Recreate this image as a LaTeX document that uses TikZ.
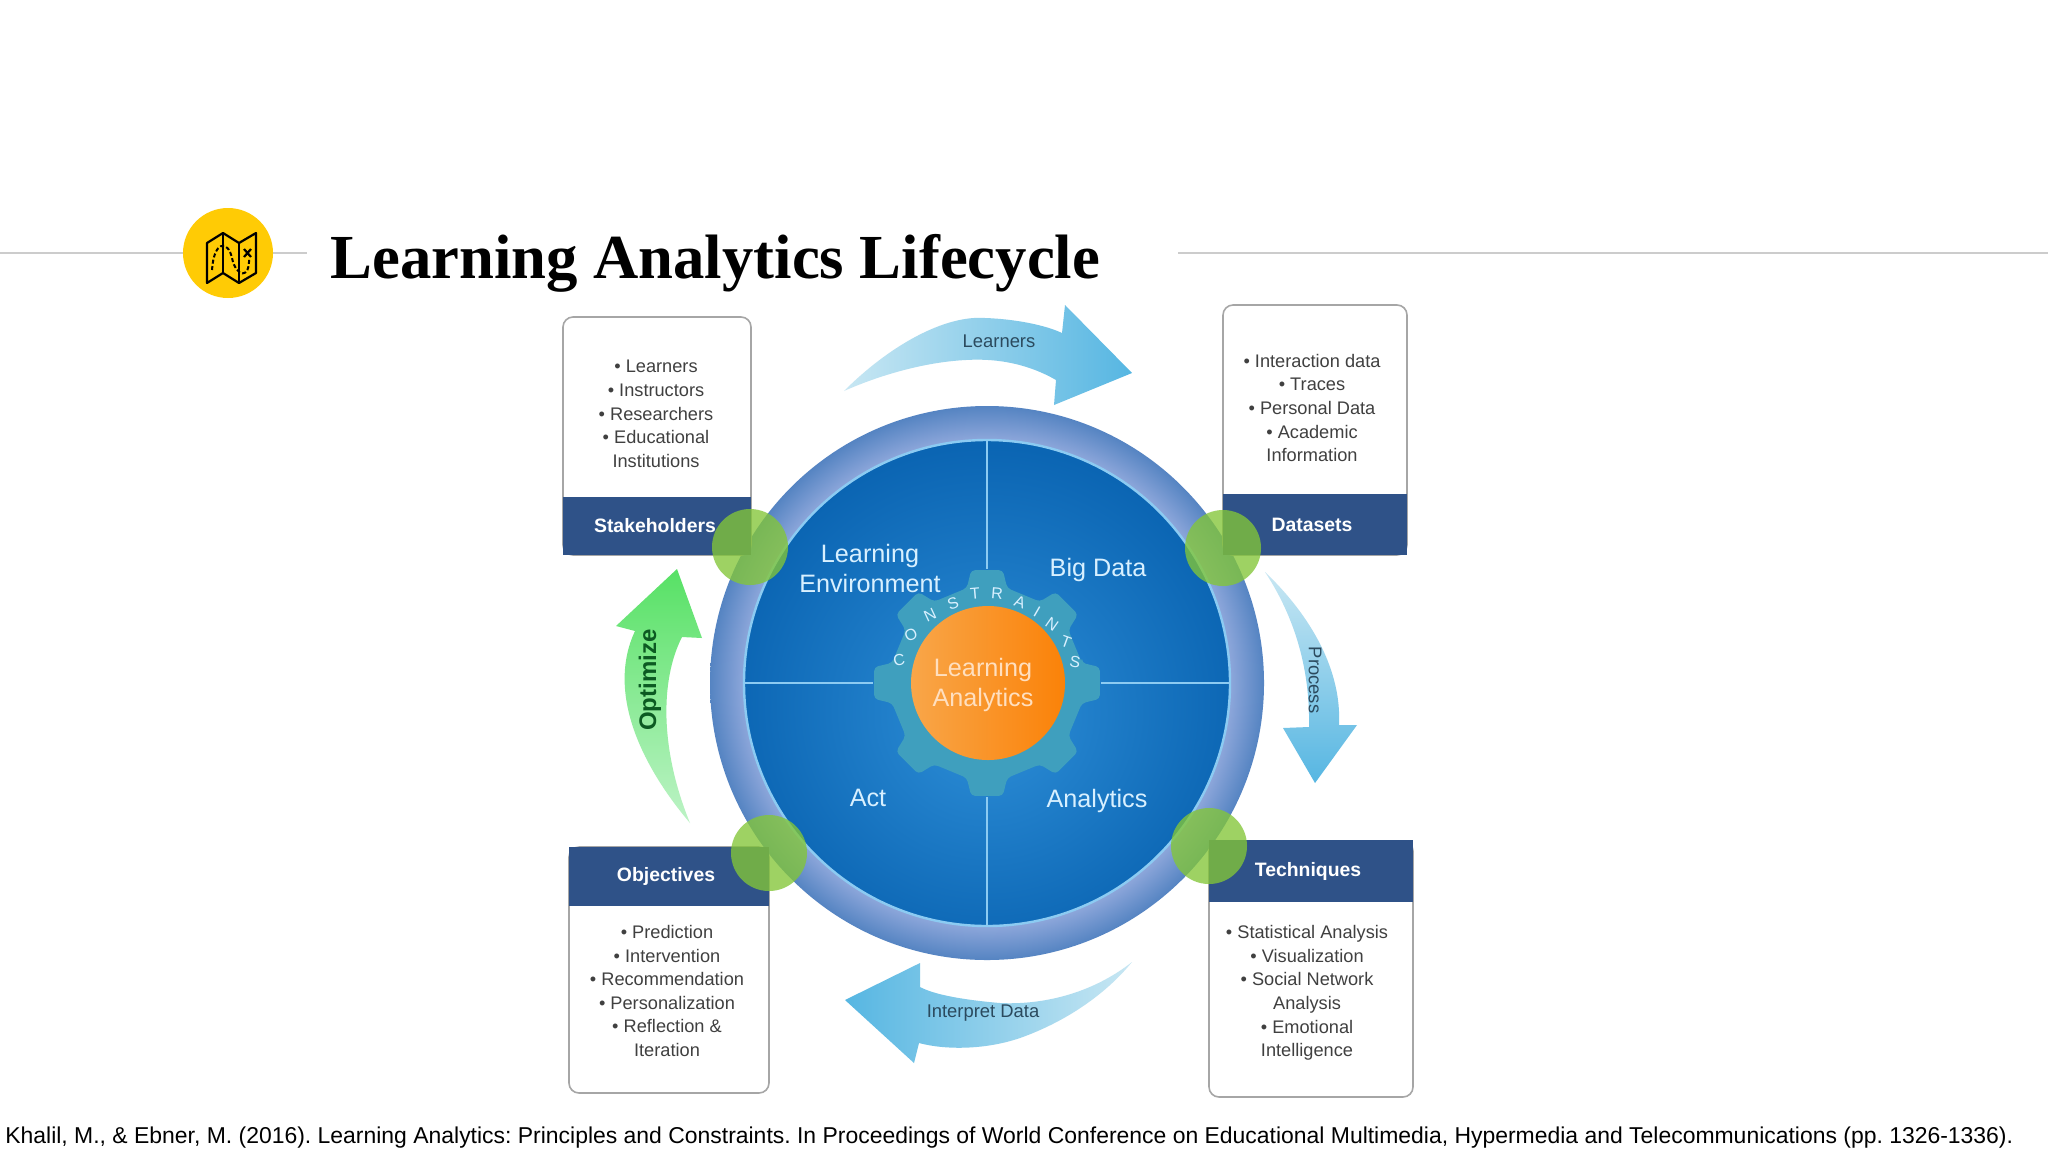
\documentclass[tikz,border=0pt]{standalone}
\usepackage{fontspec}
\setmainfont{Liberation Sans}
\newfontfamily\titlefont{Liberation Serif}
\definecolor{navy}{HTML}{2F5288}
\definecolor{ruleGray}{HTML}{CCCCCC}
\definecolor{badgeYellow}{HTML}{FFCB05}
\definecolor{cogTeal}{HTML}{3F9FBE}
\definecolor{quadText}{HTML}{D8F0FF}
\definecolor{joint}{RGB}{131,198,56}
\definecolor{ringIn}{HTML}{8CA6DA}
\definecolor{ringOut}{HTML}{5584C2}
\definecolor{discMid}{HTML}{2E8FD8}
\definecolor{discRim}{HTML}{0A64B2}
\definecolor{lineBlue}{HTML}{8CCBF2}
\definecolor{flowPale}{HTML}{C8E7F3}
\definecolor{flowDeep}{HTML}{56B6E2}
\definecolor{flowText}{HTML}{2B4A5E}
\definecolor{optPale}{HTML}{BDF3C6}
\definecolor{optDeep}{HTML}{57E165}
\definecolor{optText}{HTML}{0C5A22}
\definecolor{hubLight}{HTML}{F9A649}
\definecolor{hubDeep}{HTML}{FA8208}
\pgfdeclareradialshading{ringfade}{\pgfpoint{0bp}{0bp}}{color(0bp)=(ringIn); color(22bp)=(ringIn); color(25bp)=(ringOut); color(50bp)=(ringOut)}
\pgfdeclareradialshading{discfade}{\pgfpoint{0bp}{-4bp}}{color(0bp)=(discMid); color(27bp)=(discRim); color(50bp)=(discRim)}
\tikzset{
listbox/.style=
    {draw=gray!70,
    fill=white,
    line width=0.8pt,
    rectangle,rounded corners=5pt,
    inner sep=0pt
    },
headbar/.style=
    {fill=navy,
    rectangle,
    inner sep=0pt,
    text=white,
    font=\fontsize{9.7}{12}\selectfont\bfseries
    },
listtext/.style=
    {align=center,
    inner sep=0pt,
    text=black!75,
    font=\fontsize{9.1}{11.8}\selectfont
    },
quadlabel/.style=
    {align=center,
    inner sep=0pt,
    text=quadText,
    font=\fontsize{12.6}{15}\selectfont
    },
flowlabel/.style=
    {inner sep=0pt,
    text=flowText,
    font=\fontsize{9.2}{11}\selectfont
    },
jointdot/.style=
    {circle,
    fill=joint,
    fill opacity=0.78,
    minimum size=38pt,
    inner sep=0pt
    },
cogletter/.style=
    {inner sep=0pt,
    text=quadText,
    font=\fontsize{8}{10}\selectfont
    }}

\begin{document}
\begin{tikzpicture}[x=0.5pt,y=-0.5pt]
\fill[white] (0,0) rectangle (2048,1152);
\useasboundingbox (0,0) rectangle (2048,1152);

% heading
\coordinate (ruleA) at (0,253);
\coordinate (ruleB) at (307,253);
\coordinate (ruleC) at (1178,253);
\coordinate (ruleD) at (2048,253);
\draw[ruleGray,line width=1pt] (ruleA) -- (ruleB);
\draw[ruleGray,line width=1pt] (ruleC) -- (ruleD);
\node[circle,fill=badgeYellow,minimum size=45pt,inner sep=0pt] (badge) at (228,253) {};
\draw[black,line width=1.1pt,line join=round] (207,243) -- (223,233) -- (239,243) -- (256,233) -- (256,273) -- (239,283) -- (223,273) -- (207,283) -- cycle;
\draw[black,line width=1.1pt] (223,233) -- (223,273) (239,243) -- (239,283);
\draw[black,line width=1pt,dash pattern=on 2pt off 1.2pt] (212,270) .. controls (214,240) and (228,240) .. (232,258) .. controls (236,277) and (250,280) .. (249,258);
\draw[black,line width=1.1pt] (244,249) -- (251,257) (251,249) -- (244,257);
\node[anchor=base west,inner sep=0pt,font=\fontsize{31.35}{36}\selectfont\titlefont\bfseries] (heading) at (330,278) {Learning Analytics Lifecycle};

% wheel
\shade[shading=ringfade] (987,683) circle (277);
\shadedraw[shading=discfade,draw=lineBlue,line width=1.2pt] (987,683) circle (243);
\node[circle,minimum size=243pt,inner sep=0pt] (disc) at (987,683) {};
\node[circle,minimum size=114pt,inner sep=0pt] (hub) at (987,683) {};
\draw[lineBlue,line width=1pt] (disc.north) -- (hub.north);
\draw[lineBlue,line width=1pt] (disc.south) -- (hub.south);
\draw[lineBlue,line width=1pt] (disc.west) -- (hub.west);
\draw[lineBlue,line width=1pt] (disc.east) -- (hub.east);
\fill[cogTeal,rounded corners=2pt] ([shift={(-12:97)}]987,683)
  \foreach \a in {0,45,...,315} { -- ([shift={(\a-12:97)}]987,683) -- ([shift={(\a-8:114)}]987,683) -- ([shift={(\a+8:114)}]987,683) -- ([shift={(\a+12:97)}]987,683) } -- cycle;
\shade[left color=hubLight,right color=hubDeep] (988,683) circle (77);
\node[align=center,inner sep=0pt,text=orange!25!white,font=\fontsize{12.6}{15}\selectfont] (hubLabel) at (983,685) {Learning\\Analytics};

\node[quadlabel] (envLabel) at (870,568) {Learning\\Environment};
\node[quadlabel] (dataLabel) at (1098,570) {Big Data};
\node[quadlabel] (actLabel) at (868,798) {Act};
\node[quadlabel] (anaLabel) at (1097,801) {Analytics};

\foreach \ltr/\px/\py/\rot [count=\i] in {C/899/660/10,O/911/635/25,N/930/615/25,S/953/603/20,T/975/594/5,R/997/594/-5,A/1020/602/-20,I/1037/612/-30,N/1052/624/-35,T/1066/642/-20,S/1075/662/-10}
  \node[cogletter,rotate=\rot] (cog\i) at (\px,\py) {\ltr};

% boxes
\node[listbox,minimum width=94pt,minimum height=119pt] (stakeBox) at (657,436) {};
\node[headbar,minimum width=94pt,minimum height=29pt] (stakeHead) at (657,526) {Stakeholders\hspace*{2pt}};
\node[listtext] (stakeList) at (656,414) {• Learners\\• Instructors\\• Researchers\\• Educational\\Institutions};

\node[listbox,minimum width=92pt,minimum height=125pt] (dataBox) at (1315,430) {};
\node[headbar,minimum width=92pt,minimum height=30.5pt] (dataHead) at (1315,524.5) {Datasets\hspace*{3pt}};
\node[listtext] (dataList) at (1312,408) {• Interaction data\\• Traces\\• Personal Data\\• Academic\\Information};

\node[listbox,minimum width=100pt,minimum height=123pt] (goalBox) at (669,970) {};
\node[headbar,minimum width=100pt,minimum height=29.5pt] (goalHead) at (669,876.5) {Objectives\hspace*{3pt}};
\node[listtext] (goalList) at (667,991) {• Prediction\\• Intervention\\• Recommendation\\• Personalization\\• Reflection \&\\Iteration};

\node[listbox,minimum width=102pt,minimum height=128pt] (techBox) at (1311,969) {};
\node[headbar,minimum width=102pt,minimum height=31pt] (techHead) at (1311,871) {Techniques\hspace*{3pt}};
\node[listtext] (techList) at (1307,993) {• Statistical Analysis\\• Visualization\\• Social Network\\Analysis\\• Emotional\\Intelligence};

\node[jointdot] (jointA) at (750,547) {};
\node[jointdot] (jointB) at (1223,548) {};
\node[jointdot] (jointC) at (769,853) {};
\node[jointdot] (jointD) at (1209,846) {};

% flow arrows
\shade[left color=flowPale,right color=flowDeep] (844,391) .. controls (890,345) and (945,315) .. (985,318) .. controls (1015,319) and (1045,325) .. (1062,333) -- (1065,305) -- (1132,373) -- (1054,405) -- (1056,380) .. controls (1030,365) and (1000,358) .. (966,360) .. controls (925,362) and (880,375) .. (844,391) -- cycle;
\node[flowlabel] (learnLabel) at (999,341) {Learners};

\shade[top color=flowPale,bottom color=flowDeep] (1265,572) .. controls (1305,610) and (1342,665) .. (1339,725) -- (1357,725) -- (1315,783) -- (1283,728) -- (1309,727) .. controls (1310,680) and (1300,625) .. (1265,572) -- cycle;
\node[flowlabel,rotate=-90] (procLabel) at (1315,680) {Process};

\shade[right color=flowPale,left color=flowDeep] (1132,962) .. controls (1090,995) and (1040,1005) .. (1000,1003) .. controls (965,1000) and (935,995) .. (920,987) -- (920,963) -- (845,1000) -- (914,1063) -- (919,1043) .. controls (945,1050) and (985,1050) .. (1020,1038) .. controls (1065,1022) and (1105,995) .. (1132,962) -- cycle;
\node[flowlabel] (readLabel) at (983,1013) {Interpret Data};

\shade[bottom color=optPale,top color=optDeep] (690,823) .. controls (645,770) and (605,695) .. (635,631) -- (616,626) -- (677,569) -- (702,638) -- (682,637) .. controls (660,680) and (660,750) .. (690,823) -- cycle;
\node[inner sep=0pt,rotate=90,text=optText,font=\fontsize{12}{14}\selectfont\bfseries] (optLabel) at (650,680) {Optimize};

% source line
\node[anchor=base west,inner sep=0pt,font=\fontsize{11.47}{14}\selectfont\frenchspacing] (source) at (5,1143) {Khalil, M., \& Ebner, M. (2016). Learning Analytics: Principles and Constraints. In Proceedings of World Conference on Educational Multimedia, Hypermedia and Telecommunications (pp. 1326-1336).};
\end{tikzpicture}
\end{document}
